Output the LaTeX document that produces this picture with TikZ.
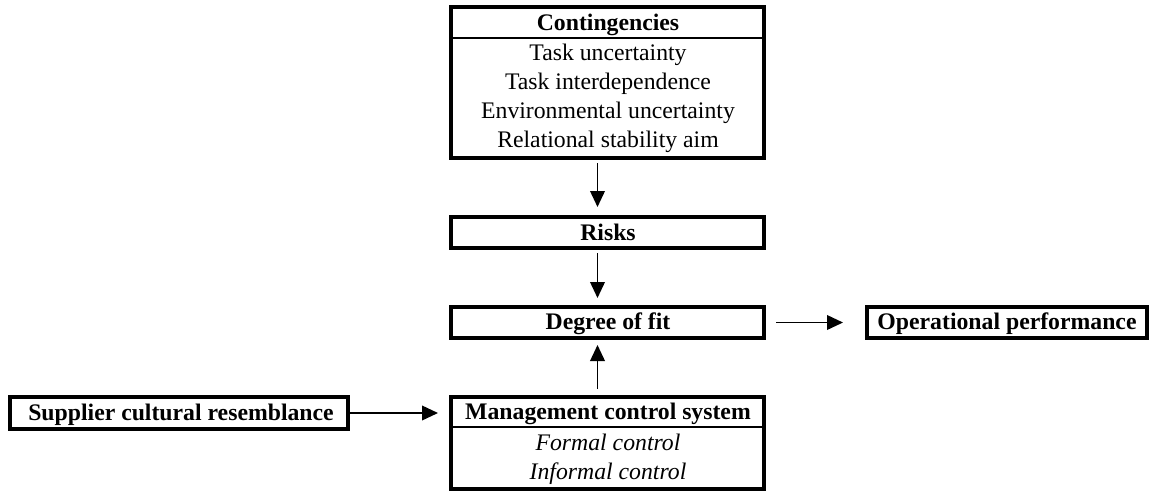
\documentclass[tikz,border=0pt]{standalone}
\usepackage{fontspec}
\setmainfont{Liberation Serif}
\usetikzlibrary{arrows.meta}
\begin{document}
\begin{tikzpicture}[x=0.75pt,y=-0.75pt,
  box/.style={draw=black,line width=2.5pt,rectangle,inner sep=0pt,outer sep=0pt},
  txt/.style={inner sep=0pt,anchor=base,font=\fontsize{17.8}{21}\selectfont},
  btxt/.style={txt,font=\fontsize{17.8}{21}\selectfont\bfseries},
  itxt/.style={txt,font=\fontsize{17.8}{21}\selectfont\itshape},
  sep/.style={line width=1.1pt},
  arr/.style={line width=1.2pt,-{Triangle[length=12pt,width=11pt]}}]
\useasboundingbox (0,0) rectangle (1149,490);
% Contingencies
\node[box,minimum width=313*0.75pt,minimum height=151*0.75pt] (cont) at (607.5,82.5) {};
\node[btxt] (c0) at (608,30.5) {Contingencies};
\node[txt] (c1) at (608,60) {Task uncertainty};
\node[txt] (c2) at (608,89.2) {Task interdependence};
\node[txt] (c3) at (608,118.4) {Environmental uncertainty};
\node[txt] (c4) at (608,147.6) {Relational stability aim};
\draw[sep] (cont.west |- 0,38) -- (cont.east |- 0,38);
% Risks
\node[box,minimum width=313*0.75pt,minimum height=31*0.75pt] (risks) at (607.5,232.5) {};
\node[btxt] (rt) at (608,240) {Risks};
% Degree of fit
\node[box,minimum width=313*0.75pt,minimum height=31*0.75pt] (fit) at (607.5,322.5) {};
\node[btxt] (ft) at (608,329.5) {Degree of fit};
% Operational performance
\node[box,minimum width=280*0.75pt,minimum height=31*0.75pt] (op) at (1007,322.5) {};
\node[btxt] (opt) at (1007,329.5) {Operational performance};
% Management control system
\node[box,minimum width=313*0.75pt,minimum height=92*0.75pt] (mcs) at (607.5,443) {};
\node[btxt] (m0) at (608,419.5) {Management control system};
\node[itxt] (m1) at (608,450) {Formal control};
\node[itxt] (m2) at (608,479) {Informal control};
\draw[sep] (mcs.west |- 0,427) -- (mcs.east |- 0,427);
% Supplier cultural resemblance
\node[box,minimum width=338*0.75pt,minimum height=32*0.75pt] (sup) at (179,413) {};
\node[btxt] (st) at (181,420) {Supplier cultural resemblance};
% Connectors
\draw[arr,shorten <=3.75pt,shorten >=7.5pt] ([xshift=-7.5pt]cont.south) -- ([xshift=-7.5pt]risks.north);
\draw[arr,shorten <=3.75pt,shorten >=6.75pt] ([xshift=-7.5pt]risks.south) -- ([xshift=-7.5pt]fit.north);
\draw[arr,shorten <=6pt,shorten >=5.25pt] ([xshift=-7.5pt]mcs.north) -- ([xshift=-7.5pt]fit.south);
\draw[arr,shorten <=9pt,shorten >=18pt] (fit.east) -- (op.west);
\draw[arr,shorten <=1.5pt,shorten >=9.75pt] (sup.east) -- (sup.east -| mcs.west);
\end{tikzpicture}
\end{document}
